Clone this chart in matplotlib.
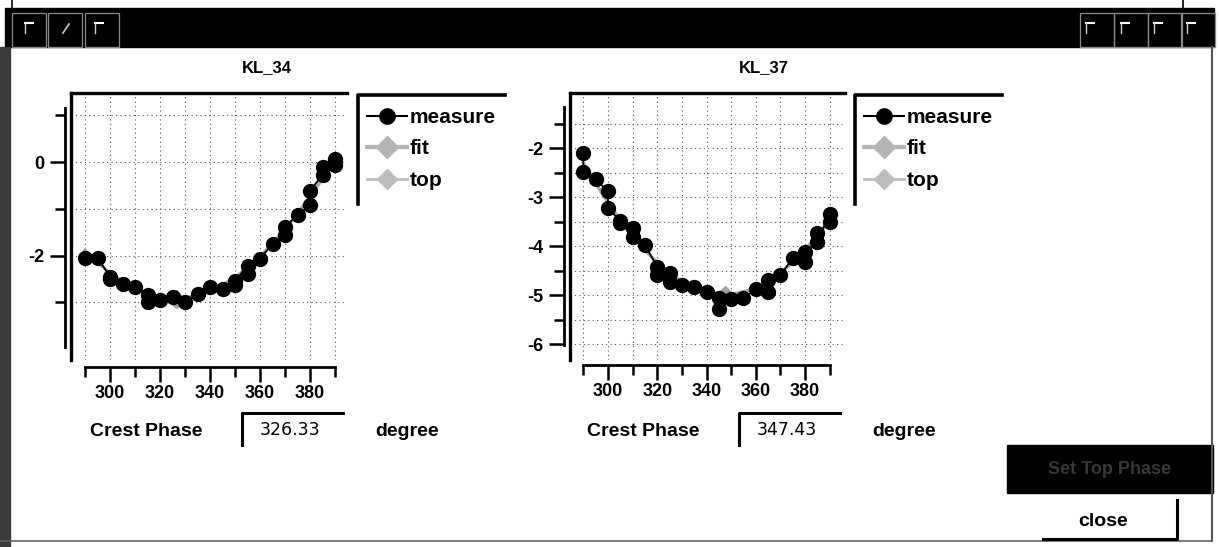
import matplotlib
matplotlib.use("Agg")
import matplotlib.pyplot as plt
from matplotlib.lines import Line2D
from matplotlib.patches import Rectangle

# ---------------- data ----------------
kl34_phase = [290, 295, 300, 300, 305, 310, 315, 315, 320, 325, 330, 335, 340, 345,
              350, 350, 355, 355, 360, 365, 370, 370, 375, 380, 380, 385, 385, 390, 390]
kl34_measure = [-2.05, -2.05, -2.45, -2.50, -2.60, -2.67, -2.85, -3.00, -2.96, -2.88,
                -3.00, -2.82, -2.67, -2.72, -2.64, -2.55, -2.22, -2.40, -2.07, -1.75,
                -1.57, -1.38, -1.14, -0.93, -0.61, -0.28, -0.10, -0.07, 0.07]
kl34_fit_phase = [290, 300, 310, 320, 330, 340, 350, 360, 370, 380, 390]
kl34_fit = [-1.89, -2.38, -2.72, -2.90, -2.92, -2.78, -2.48, -2.03, -1.45, -0.75, 0.05]
kl34_top = (326.33, -2.93)

kl37_phase = [290, 290, 295, 300, 300, 305, 305, 310, 310, 315, 320, 320, 325, 325, 330,
              335, 340, 345, 345, 350, 355, 360, 365, 365, 370, 375, 380, 380, 385, 385,
              390, 390]
kl37_measure = [-2.10, -2.48, -2.63, -2.88, -3.22, -3.48, -3.52, -3.63, -3.80, -3.97,
                -4.42, -4.59, -4.55, -4.72, -4.78, -4.82, -4.93, -5.06, -5.27, -5.08,
                -5.06, -4.87, -4.93, -4.69, -4.59, -4.24, -4.11, -4.31, -3.73, -3.91,
                -3.33, -3.50]
kl37_fit_phase = [290, 300, 310, 320, 330, 340, 350, 360, 370, 380, 390]
kl37_fit = [-2.30, -3.11, -3.80, -4.34, -4.73, -4.95, -4.99, -4.86, -4.55, -4.08, -3.46]
kl37_top = (347.43, -5.00)

titles = ["KL_34", "KL_37"]
crest_values = ["326.33", "347.43"]
legend_labels = ["measure", "fit", "top"]
x_major = [300, 320, 340, 360, 380]
x_minor = [290, 310, 330, 350, 370, 390]
x_grid = [290, 300, 310, 320, 330, 340, 350, 360, 370, 380, 390]
kl34_y_major = [0, -2]
kl34_y_minor = [1, -1, -3]
kl34_y_grid = [1, 0, -1, -2, -3]
kl37_y_major = [-2, -3, -4, -5, -6]
kl37_y_minor = [-1.5, -2.5, -3.5, -4.5, -5.5]
kl37_y_grid = [-1.5, -2, -2.5, -3, -3.5, -4, -4.5, -5, -5.5, -6]

# ---------------- figure ----------------
W, H = 1219, 547
fig = plt.figure(figsize=(W / 100, H / 100), dpi=100)
fig.patch.set_facecolor("white")

BOLD = dict(family=["Liberation Sans", "DejaVu Sans"], weight="bold")


def rect(x0, y0, x1, y1):
    return [x0 / W, 1 - y1 / H, (x1 - x0) / W, (y1 - y0) / H]


# pixel-space overlay for window decorations
bg = fig.add_axes([0, 0, 1, 1])
bg.set_xlim(0, W)
bg.set_ylim(H, 0)
bg.axis("off")

# title bar
bg.add_patch(Rectangle((5, 8), 1209, 39, color="black", zorder=1))
for x0 in [12, 48, 85, 1080, 1114, 1148, 1181]:
    bg.add_patch(Rectangle((x0, 13), 34, 34, fill=False, ec="#8a8a8a", lw=0.9, zorder=2))
for xc in [31, 101, 1092, 1127, 1160, 1193]:
    bg.plot([xc - 6, xc + 2], [23, 23], color="white", lw=1.5, zorder=3)
    bg.plot([xc - 6, xc - 6], [23, 33], color="#cccccc", lw=1.0, zorder=3)
bg.plot([63, 69], [33, 24], color="#cccccc", lw=1.2, zorder=3)
bg.plot([12, 12], [0, 8], color="black", lw=1.2)
bg.plot([1183, 1183], [0, 8], color="black", lw=1.2)

# window borders
bg.add_patch(Rectangle((0, 47), 10, 500, color="#3a3a3a", zorder=1))
bg.plot([1212, 1212], [47, 541], color="#555555", lw=1.5)
bg.plot([0, 1212], [541, 541], color="#666666", lw=1.2)

# buttons
bg.add_patch(Rectangle((1007, 445), 206, 48, color="black", zorder=1))
bg.text(1110, 470, "Set Top Phase", color="#383838", fontsize=13, ha="center",
        va="center", zorder=2, **BOLD)
bg.text(1103, 526, "close", fontsize=14, ha="center", va="baseline", **BOLD)
bg.plot([1177, 1177, 1043], [500, 539, 539], color="black", lw=2.2)


def panel(px0, ax_box, xlim, ylim, phase, meas, fit_x, fit_y, top, title, value,
          y_major, y_minor, y_grid, y_bounds, x_out, y_out, leg_x):
    x0, y0, x1, y1 = ax_box
    ax = fig.add_axes(rect(x0, y0, x1, y1))
    ax.set_xlim(*xlim)
    ax.set_ylim(*ylim)
    for s in ["right", "bottom"]:
        ax.spines[s].set_visible(False)
    for s in ["top", "left"]:
        ax.spines[s].set_linewidth(2.4)
    ax.set_xticks(x_grid)
    ax.set_yticks(y_grid)
    ax.tick_params(length=0, labelbottom=False, labelleft=False)
    ax.grid(True, color="#555555", lw=0.8, ls=(0, (1, 3)))

    ax.plot(fit_x, fit_y, color="#a8a8a8", lw=2.5, zorder=2)
    ax.plot([top[0]], [top[1]], marker="D", ms=9, color="#a0a0a0", ls="none", zorder=2)
    ax.plot(phase, meas, color="black", lw=1.3, marker="o", ms=10, zorder=3,
            clip_on=False)

    a2 = fig.add_axes(rect(x0, y0, x1, y1))
    a2.patch.set_visible(False)
    a2.set_xlim(*xlim)
    a2.set_ylim(*ylim)
    a2.spines["top"].set_visible(False)
    a2.spines["right"].set_visible(False)
    a2.spines["left"].set_position(("outward", y_out))
    a2.spines["left"].set_bounds(*y_bounds)
    a2.spines["bottom"].set_position(("outward", x_out))
    a2.spines["bottom"].set_bounds(290, 390)
    for s in ["left", "bottom"]:
        a2.spines[s].set_linewidth(2.0)
    a2.set_xticks(x_major)
    a2.set_xticks(x_minor, minor=True)
    a2.set_yticks(y_major)
    a2.set_yticks(y_minor, minor=True)
    a2.set_xticklabels([str(v) for v in x_major], fontsize=13, **BOLD)
    a2.set_yticklabels([str(v) for v in y_major], fontsize=13, **BOLD)
    a2.tick_params(which="major", length=10.8, width=1.8, direction="out", pad=2)
    a2.tick_params(which="minor", length=7.2, width=1.8, direction="out")
    a2.tick_params(axis="y", which="major", pad=4)

    # title
    bg.text(px0 + 247, 72, title, fontsize=12, ha="center", va="baseline", **BOLD)
    # crest phase row
    bg.text(px0 + 70, 436, "Crest Phase", fontsize=14, ha="left", va="baseline", **BOLD)
    bg.plot([px0 + 222, px0 + 222, px0 + 323], [445, 413, 413], color="black", lw=2.2)
    bg.text(px0 + 270, 435, value, fontsize=12.5, ha="center", va="baseline",
            family="DejaVu Sans")
    bg.text(px0 + 387, 436, "degree", fontsize=14, ha="center", va="baseline", **BOLD)

    # legend frame
    bg.plot([leg_x, leg_x, leg_x + 147], [204, 95, 95], color="black", lw=2.6)
    h_meas = Line2D([], [], color="black", lw=1.5, marker="o", ms=11)
    h_fit = Line2D([], [], color="#b4b4b4", lw=3, marker="D", ms=11)
    h_top = Line2D([], [], color="#bdbdbd", lw=2, marker="D", ms=10)
    fig.legend([h_meas, h_fit, h_top], legend_labels, loc="upper left",
               bbox_to_anchor=((leg_x + 9) / W, 1 - 108 / H), frameon=False,
               borderpad=0, borderaxespad=0, handlelength=1.9, handletextpad=0.15,
               labelspacing=0.6, numpoints=1,
               prop=dict(family=["Liberation Sans", "DejaVu Sans"], weight="bold",
                         size=15))


panel(20, (71, 93, 347, 360), (284.4, 394.8), (-4.235, 1.476), kl34_phase, kl34_measure,
      kl34_fit_phase, kl34_fit, kl34_top, titles[0], crest_values[0],
      kl34_y_major, kl34_y_minor, kl34_y_grid, (-3.96, 1.155), 5.2, 4.3, 358)
panel(517, (570, 93, 845, 360), (284.6, 396.2), (-6.32, -0.87), kl37_phase, kl37_measure,
      kl37_fit_phase, kl37_fit, kl37_top, titles[1], crest_values[1],
      kl37_y_major, kl37_y_minor, kl37_y_grid, (-6.01, -1.16), 3.6, 4.3, 855)

fig.savefig("out.png", dpi=100, facecolor="white")
